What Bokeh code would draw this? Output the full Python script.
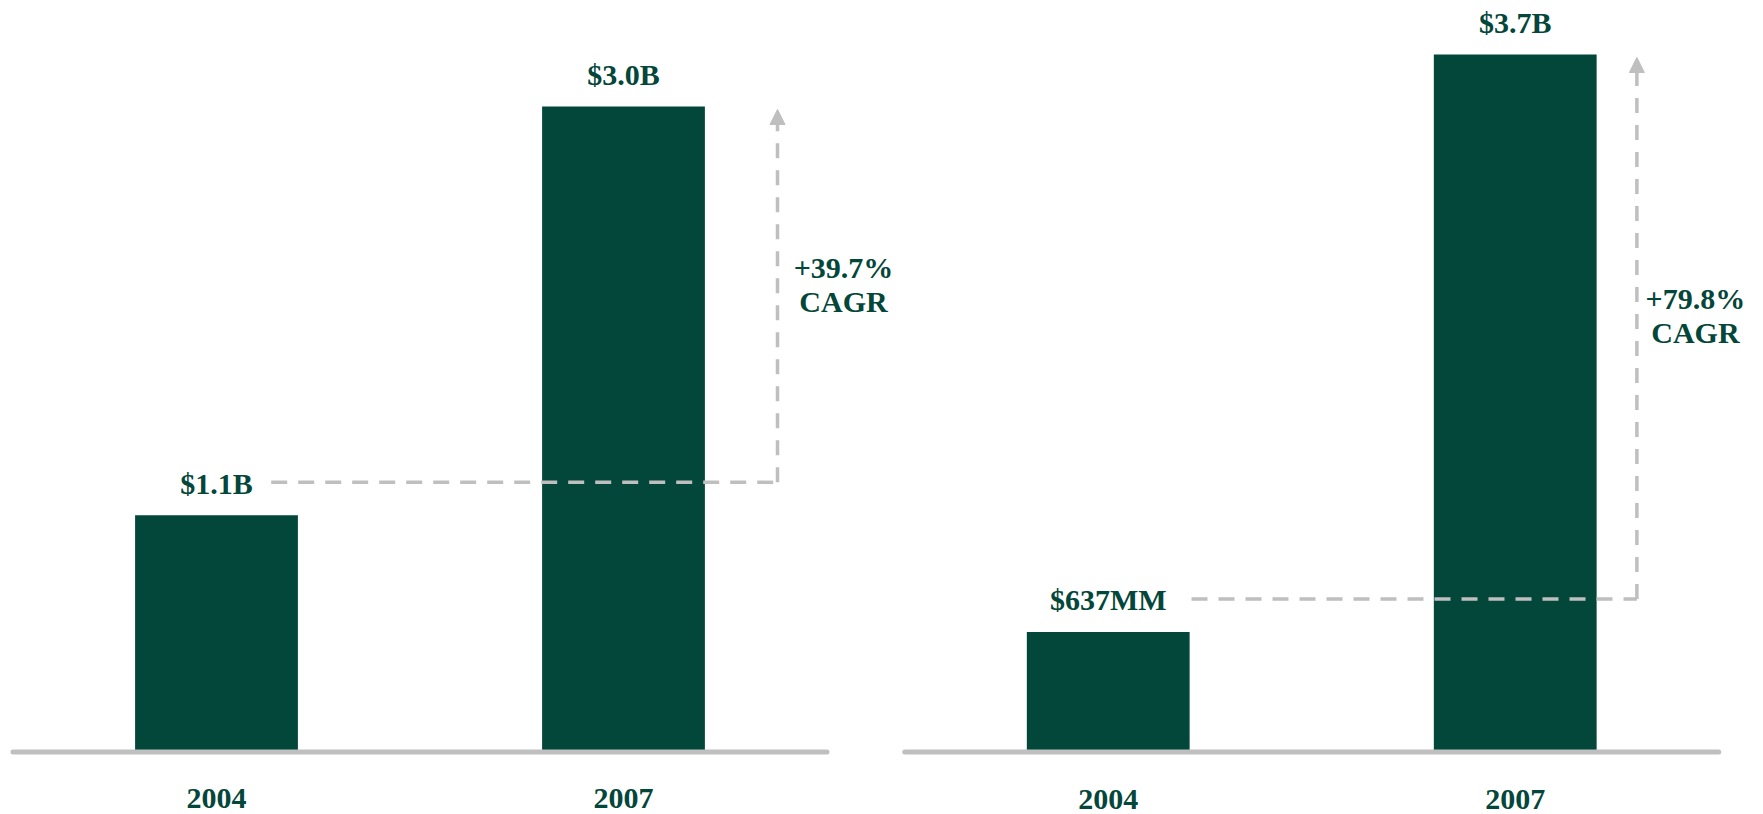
from bokeh.plotting import figure
from bokeh.models import Range1d, Arrow, NormalHead
from bokeh.core.properties import value
from bokeh.embed import file_html
from bokeh.resources import INLINE

# ---- data ----
years = ["2004", "2007"]
left_values = [1.1, 3.0]          # $ billions
left_labels = ["$1.1B", "$3.0B"]
left_cagr = ["+39.7%", "CAGR"]
right_values = [0.637, 3.7]       # $ billions
right_labels = ["$637MM", "$3.7B"]
right_cagr = ["+79.8%", "CAGR"]

# ---- style / layout ----
GREEN = "#03463A"
GRAY = "#bfbfbf"
FONT = value("Liberation Serif")
W, H = 1763, 814

p = figure(width=W, height=H, output_backend="svg", toolbar_location=None,
           x_range=Range1d(-0.5307, 3.801), y_range=Range1d(-0.2905, 3.4926),
           x_axis_location=None, y_axis_location=None, min_border=0)
p.extra_y_ranges = {"right": Range1d(-0.3315, 3.9865)}
p.grid.visible = False
p.outline_line_color = None
p.background_fill_color = "white"
p.border_fill_color = "white"

panels = [
    dict(values=left_values, labels=left_labels, cagr=left_cagr, offset=0.0,
         yr="default", ymin=-0.2905, ymax=3.4926, hx0=0.1344, vx=1.3784,
         tx=1.5405, ty=2.1727),
    dict(values=right_values, labels=right_labels, cagr=right_cagr, offset=2.191,
         yr="right", ymin=-0.3315, ymax=3.9865, hx0=0.2046, vx=1.2989,
         tx=1.4427, ty=2.3155),
]

for pn in panels:
    off = pn["offset"]
    yr = pn["yr"]
    ppu = H / (pn["ymax"] - pn["ymin"])
    xs = [off + i for i in range(len(years))]
    vals = pn["values"]

    # bars
    p.vbar(x=xs, top=vals, bottom=0, width=0.4, fill_color=GREEN,
           line_color=None, y_range_name=yr)

    # baseline
    p.segment(x0=[off - 0.5], y0=[0], x1=[off + 1.5], y1=[0], line_width=5,
              line_color=GRAY, line_cap="round", y_range_name=yr)

    # value labels
    p.text(x=xs, y=vals, text=pn["labels"], text_font=FONT,
           text_font_style="bold", text_font_size="30px", text_color=GREEN,
           text_align="center", text_baseline="middle", y_offset=-32,
           y_range_name=yr)

    # year labels
    p.text(x=xs, y=[0, 0], text=years, text_font=FONT, text_font_style="bold",
           text_font_size="30px", text_color=GREEN, text_align="center",
           text_baseline="middle", y_offset=47, y_range_name=yr)

    # connector
    cy = vals[0] + 33 / ppu
    tip = vals[1] - 3 / ppu
    p.segment(x0=[off + pn["hx0"]], y0=[cy], x1=[off + pn["vx"]], y1=[cy],
              line_width=3.5, line_color=GRAY, line_dash="16 11",
              y_range_name=yr)
    p.add_layout(Arrow(x_start=off + pn["vx"], y_start=cy,
                       x_end=off + pn["vx"], y_end=tip,
                       end=NormalHead(size=15, fill_color=GRAY, line_color=GRAY,
                                      line_width=1),
                       line_color=GRAY, line_width=3.5, line_dash="15 12",
                       y_range_name=yr))

    # CAGR text
    p.text(x=[off + pn["tx"]] * 2, y=[pn["ty"]] * 2, text=pn["cagr"],
           text_font=FONT, text_font_style="bold", text_font_size="30px",
           text_color=GREEN, text_align="center", text_baseline="middle",
           y_offset=[-17, 17], y_range_name=yr)

open("out.html", "w").write(file_html(p, INLINE))
